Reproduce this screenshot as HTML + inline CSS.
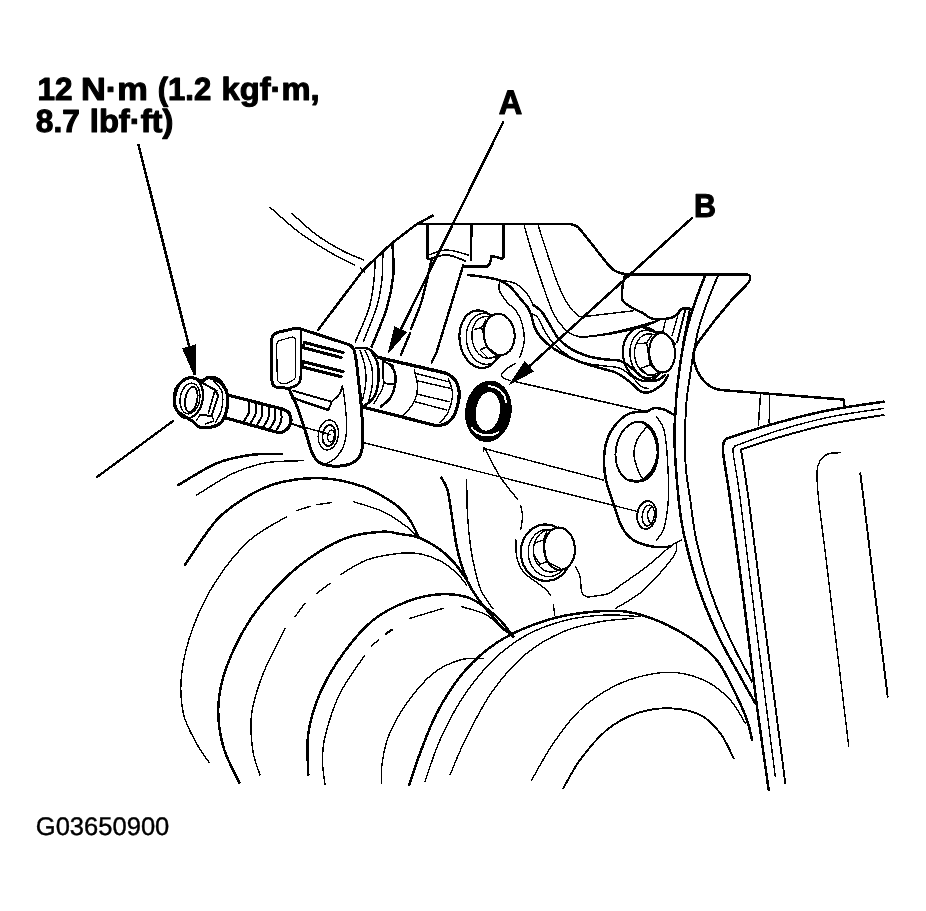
<!DOCTYPE html>
<html lang="en">
<head>
<meta charset="utf-8">
<title>G03650900</title>
<style>
html,body{margin:0;padding:0;background:#fff;}
body{width:926px;height:911px;overflow:hidden;position:relative;font-family:"Liberation Sans",sans-serif;}
svg{position:absolute;left:0;top:0;display:block;filter:grayscale(1);}
svg path,svg ellipse{stroke-linecap:round;stroke-linejoin:round;}
svg text{font-family:"Liberation Sans",sans-serif;fill:#000;}
</style>
</head>
<body>
<svg width="926" height="911" viewBox="0 0 926 911" shape-rendering="crispEdges">
<rect x="0" y="0" width="926" height="911" fill="#fff"/>
<path d="M138.5 145.0L190.0 350.0" fill="none" stroke="#000" stroke-width="2.6"/>
<path d="M182.1 348.3L195.8 344.3L195.8 375.3L193.8 375.3Z" fill="#000"/>
<path d="M503.0 122.5L400.0 331.0" fill="none" stroke="#000" stroke-width="2.5"/>
<path d="M394.4 326.0L407.0 332.2L387.3 354.6Z" fill="#000"/>
<path d="M691.7 218.3L529.0 366.6" fill="none" stroke="#000" stroke-width="2.5"/>
<path d="M524.8 361.0L534.0 371.4L508.1 385.6Z" fill="#000"/>
<path d="M318.0 330.0L363.3 270.0L391.7 243.3L416.7 224.2L432.5 215.8" fill="none" stroke="#000" stroke-width="2.5"/>
<path d="M418.0 224.2L570.8 224.2" fill="none" stroke="#000" stroke-width="2.5"/>
<path d="M570.8 224.2C571.8 224.5 575.0 225.2 576.7 226.2C578.4 227.2 579.1 228.4 580.8 230.4C582.5 232.4 586.0 236.7 587.0 238.0" fill="none" stroke="#000" stroke-width="2.5"/>
<path d="M587.0 238.0L605.8 261.7" fill="none" stroke="#000" stroke-width="2.5"/>
<path d="M605.8 261.7C606.5 262.5 608.5 265.2 610.0 266.7C611.5 268.2 613.0 269.7 615.0 270.8C617.0 271.9 619.9 272.7 621.7 273.3C623.5 273.9 625.3 274.1 626.0 274.3" fill="none" stroke="#000" stroke-width="2.5"/>
<path d="M626.0 274.3L746.5 274.3" fill="none" stroke="#000" stroke-width="2.5"/>
<path d="M746.5 274.3C747.0 274.5 749.0 274.8 749.6 275.6C750.2 276.4 750.4 277.8 750.2 279.0C750.0 280.2 748.6 282.2 748.3 282.9" fill="none" stroke="#000" stroke-width="2.5"/>
<path d="M748.3 282.9L731.7 300.0L715.0 320.0L696.7 344.2" fill="none" stroke="#000" stroke-width="2.5"/>
<path d="M696.7 344.2C696.1 346.0 693.6 351.5 693.3 355.0C693.0 358.5 693.9 361.5 695.0 365.0C696.1 368.5 697.8 372.5 700.0 375.8C702.2 379.1 705.5 382.8 708.3 385.0C711.1 387.2 713.6 388.3 716.7 389.2C719.8 390.1 725.3 390.3 727.0 390.5" fill="none" stroke="#000" stroke-width="2.5"/>
<path d="M727.0 390.5L843.5 399.5L844.5 406.5" fill="none" stroke="#000" stroke-width="2.5"/>
<path d="M760.5 394.0L758.4 425.4" fill="none" stroke="#000" stroke-width="1.5"/>
<path d="M769.6 394.7L769.2 423.2" fill="none" stroke="#000" stroke-width="1.5"/>
<path d="M270.0 207.3C275.0 211.6 289.5 225.2 300.0 233.0C310.5 240.8 323.8 248.7 333.0 254.0C342.2 259.3 351.3 263.2 355.0 265.0" fill="none" stroke="#000" stroke-width="1.4"/>
<path d="M291.7 213.3C295.9 216.9 308.1 228.7 316.7 235.0C325.2 241.3 335.1 246.8 343.0 251.0C350.9 255.2 360.5 258.5 364.0 260.0" fill="none" stroke="#000" stroke-width="1.4"/>
<path d="M360.5 268.0L364.5 272.0" fill="none" stroke="#000" stroke-width="1.4"/>
<path d="M392.5 244.2C392.6 249.3 394.3 264.3 393.3 275.0C392.3 285.7 390.3 296.4 386.7 308.3C383.1 320.2 374.2 340.3 371.7 346.7" fill="none" stroke="#000" stroke-width="2.5"/>
<path d="M382.8 252.7C382.7 257.1 383.0 270.4 382.0 279.3C381.0 288.2 380.1 295.7 377.0 306.0C373.9 316.3 365.9 335.2 363.7 341.0" fill="none" stroke="#000" stroke-width="1.5"/>
<path d="M375.3 258.5C375.0 262.5 374.8 274.2 373.7 282.7C372.6 291.2 371.8 299.4 368.7 309.3C365.6 319.2 357.5 336.4 355.3 341.8" fill="none" stroke="#000" stroke-width="1.5"/>
<path d="M427.5 225.0L427.5 258.0" fill="none" stroke="#000" stroke-width="2.5"/>
<path d="M471.5 225.0L470.8 260.0" fill="none" stroke="#000" stroke-width="2.5"/>
<path d="M428.3 255.0C431.4 254.2 440.0 250.0 446.7 250.0C453.4 250.0 464.7 254.2 468.3 255.0" fill="none" stroke="#000" stroke-width="1.4"/>
<path d="M428.3 259.2C431.4 258.5 440.6 254.7 446.7 255.0C452.8 255.3 461.9 259.8 465.0 260.8" fill="none" stroke="#000" stroke-width="1.9"/>
<path d="M465.0 265.8L484.0 265.8" fill="none" stroke="#000" stroke-width="1.9"/>
<path d="M431.5 260.0C429.9 266.7 425.4 288.5 422.0 300.0C418.6 311.5 412.7 324.3 410.8 329.2" fill="none" stroke="#000" stroke-width="2.4"/>
<path d="M410.0 333.3L400.8 355.0" fill="none" stroke="#000" stroke-width="2.4"/>
<path d="M463.3 265.0L436.7 351.8L431.7 362.5" fill="none" stroke="#000" stroke-width="2.4"/>
<path d="M289.2 388.3L278.0 387.5Q272.0 387.0 272.0 381.0L271.7 340.8Q271.7 333.8 278.5 332.2L292.6 328.9Q297.5 327.8 302.3 329.4L350.0 345.0" fill="none" stroke="#000" stroke-width="3.0"/>
<path d="M350.0 345.0C350.6 345.7 352.6 347.2 353.5 349.0C354.4 350.8 354.7 351.1 355.5 356.0C356.3 360.9 357.3 369.0 358.3 378.3C359.3 387.6 361.0 400.6 361.7 411.7C362.4 422.8 363.1 437.2 362.5 445.0C361.9 452.8 360.9 455.0 358.3 458.3C355.7 461.6 351.4 463.8 346.7 465.0C342.0 466.2 334.7 466.4 330.0 465.8C325.3 465.2 321.4 464.1 318.3 461.7C315.2 459.3 313.9 457.0 311.7 451.7C309.5 446.4 307.6 438.1 305.0 430.0C302.4 421.9 298.2 409.4 295.8 403.3C293.4 397.2 291.9 395.8 290.8 393.3C289.7 390.8 289.5 389.1 289.2 388.3" fill="none" stroke="#000" stroke-width="3.0"/>
<path d="M300.8 330.0L300.8 376.0Q300.8 384.0 295.0 386.1L289.2 388.3" fill="none" stroke="#000" stroke-width="2.5"/>
<path d="M276.7 345.3Q276.7 341.3 280.6 340.2L291.4 337.3Q295.3 336.2 295.3 340.2L295.8 374.7Q295.8 378.7 292.3 380.6L288.5 382.6Q285.0 384.5 281.2 383.3L281.0 383.2Q277.2 382.0 277.2 378.0Z" fill="none" stroke="#000" stroke-width="1.2"/>
<path d="M304.0 342.4L343.2 352.6" fill="none" stroke="#000" stroke-width="3.1"/>
<path d="M303.5 347.7L341.2 357.6" fill="none" stroke="#000" stroke-width="3.1"/>
<path d="M303.5 361.8L343.2 371.7" fill="none" stroke="#000" stroke-width="3.1"/>
<path d="M303.0 367.2L341.2 376.6" fill="none" stroke="#000" stroke-width="3.1"/>
<path d="M303.8 342.4L303.4 347.7" fill="none" stroke="#000" stroke-width="2.4"/>
<path d="M303.3 361.8L302.9 367.2" fill="none" stroke="#000" stroke-width="2.4"/>
<path d="M293.3 390.8L331.7 401.7L328.3 410.0" fill="none" stroke="#000" stroke-width="1.9"/>
<path d="M292.5 397.8L328.3 410.0" fill="none" stroke="#000" stroke-width="2.5"/>
<path d="M342.5 385.8C342.0 387.2 341.3 391.4 339.5 394.0C337.7 396.6 333.0 400.4 331.7 401.7" fill="none" stroke="#000" stroke-width="1.9"/>
<path d="M342.5 385.8C342.9 388.7 344.3 396.2 345.0 403.3C345.7 410.4 347.0 421.1 346.7 428.3C346.4 435.5 345.2 441.7 343.3 446.7C341.4 451.7 337.8 455.5 335.0 458.3C332.2 461.1 328.1 462.5 326.7 463.3" fill="none" stroke="#000" stroke-width="1.4"/>
<ellipse cx="328.3" cy="435" rx="10" ry="15" transform="rotate(8 328.3 435)" fill="none" stroke="#000" stroke-width="1.4"/>
<ellipse cx="329" cy="435.5" rx="6.5" ry="10.5" transform="rotate(8 329 435.5)" fill="none" stroke="#000" stroke-width="1.9"/>
<ellipse cx="331" cy="436" rx="3.2" ry="6" transform="rotate(8 331 436)" fill="none" stroke="#000" stroke-width="1.4"/>
<path d="M291.0 423.5L330.0 434.5" fill="none" stroke="#000" stroke-width="1.4"/>
<path d="M378.7 357.5L446.7 373.3" fill="none" stroke="#000" stroke-width="3.4"/>
<path d="M446.7 373.3C448.1 374.4 452.9 376.7 455.0 380.0C457.1 383.3 459.2 387.8 459.2 393.3C459.2 398.9 457.1 408.3 455.0 413.3C452.9 418.3 449.8 421.2 446.7 423.3C443.6 425.4 438.4 425.4 436.7 425.8" fill="none" stroke="#000" stroke-width="3.2"/>
<path d="M361.7 406.7L436.7 425.8" fill="none" stroke="#000" stroke-width="3.2"/>
<path d="M355.8 348.3C357.2 348.2 361.6 347.6 364.0 347.8C366.4 348.0 367.6 348.1 370.0 349.7C372.4 351.3 377.2 356.2 378.7 357.5" fill="none" stroke="#000" stroke-width="2.5"/>
<path d="M370.8 350.0C371.9 352.2 376.2 358.6 377.5 363.3C378.8 368.0 379.2 372.7 378.7 378.3C378.1 383.9 376.8 392.0 374.2 396.7C371.6 401.4 365.1 405.0 363.3 406.7" fill="none" stroke="#000" stroke-width="2.5"/>
<path d="M360.0 350.0C360.8 352.8 364.0 361.1 365.0 366.7C366.0 372.2 366.2 377.8 365.8 383.3C365.4 388.9 363.1 397.2 362.5 400.0" fill="none" stroke="#000" stroke-width="1.4"/>
<path d="M365.0 350.0C366.1 352.8 370.4 361.1 371.7 366.7C372.9 372.2 373.1 377.5 372.5 383.3C371.9 389.1 369.8 397.8 368.3 401.7C366.8 405.6 364.1 405.9 363.3 406.7" fill="none" stroke="#000" stroke-width="1.4"/>
<path d="M382.5 360.8L383.7 383.3L394.2 384.2" fill="none" stroke="#000" stroke-width="1.9"/>
<path d="M382.5 360.8L393.3 365.8" fill="none" stroke="#000" stroke-width="1.9"/>
<path d="M383.7 383.3C383.4 384.4 383.3 386.7 381.7 390.0C380.1 393.3 375.4 401.1 374.2 403.3" fill="none" stroke="#000" stroke-width="1.4"/>
<path d="M390.0 364.2C390.8 365.7 394.2 369.6 395.0 373.3C395.8 377.1 395.5 382.5 394.7 386.7C393.9 390.9 392.3 395.0 390.0 398.3C387.7 401.6 382.3 405.3 380.8 406.7" fill="none" stroke="#000" stroke-width="2.5"/>
<path d="M414.2 369.2C414.8 372.1 417.6 381.0 417.5 386.7C417.4 392.4 415.7 398.6 413.3 403.3C410.9 408.0 405.0 413.1 403.3 415.0" fill="none" stroke="#000" stroke-width="1.4"/>
<path d="M415.0 373.3L448.3 381.7" fill="none" stroke="#000" stroke-width="1.4"/>
<path d="M417.5 380.8L450.0 388.3" fill="none" stroke="#000" stroke-width="1.4"/>
<path d="M417.5 394.2L449.2 401.7" fill="none" stroke="#000" stroke-width="1.4"/>
<path d="M415.0 401.7L446.7 410.0" fill="none" stroke="#000" stroke-width="1.4"/>
<path d="M448.3 378.3C449.0 380.8 452.5 387.7 452.5 393.3C452.5 398.9 450.4 406.8 448.3 411.7C446.2 416.6 441.4 420.7 440.0 422.5" fill="none" stroke="#000" stroke-width="1.4"/>
<ellipse cx="488.4" cy="411.3" rx="23.2" ry="30.9" transform="rotate(8 488.4 411.3)" fill="#000"/>
<ellipse cx="487.9" cy="411.3" rx="12" ry="19.4" transform="rotate(8 487.9 411.3)" fill="#fff"/>
<path d="M488.5 386C495 386.5 501 390 504.2 395.5C505.5 398 505.8 400 505.8 402" fill="none" stroke="#fff" stroke-width="2" stroke-linecap="round"/>
<path d="M471.7 428C474 431.5 478.3 434 484 435.2C489 436 494 435 498.3 432.5" fill="none" stroke="#fff" stroke-width="2" stroke-linecap="round"/>
<path d="M174.2 400.0C174.1 396.5 174.8 392.1 176.0 389.0C177.2 385.9 179.2 383.6 181.7 381.7C184.2 379.8 187.5 377.6 190.8 377.5C194.1 377.4 198.8 380.8 201.7 380.8C204.6 380.8 205.8 377.9 208.3 377.5C210.8 377.1 214.2 377.1 216.7 378.3C219.2 379.6 221.5 382.2 223.3 385.0C225.1 387.8 226.9 390.8 227.5 395.0C228.1 399.2 227.7 405.6 226.7 410.0C225.7 414.4 223.9 418.9 221.7 421.7C219.5 424.5 216.1 425.7 213.3 426.7C210.5 427.7 207.5 427.5 205.0 427.5C202.5 427.5 200.2 427.7 198.3 426.7C196.4 425.7 195.5 423.4 193.3 421.7C191.1 420.0 187.8 418.6 185.0 416.7C182.2 414.8 178.5 412.8 176.7 410.0C174.9 407.2 174.3 403.5 174.2 400.0Z" fill="none" stroke="#000" stroke-width="3.2"/>
<ellipse cx="189" cy="398" rx="13.8" ry="20.5" transform="rotate(10 189 398)" fill="none" stroke="#000" stroke-width="2.2"/>
<ellipse cx="190" cy="398.5" rx="9.8" ry="15.5" transform="rotate(10 190 398.5)" fill="none" stroke="#000" stroke-width="1.3"/>
<ellipse cx="191.3" cy="399.3" rx="6" ry="12.8" transform="rotate(10 191.3 399.3)" fill="none" stroke="#000" stroke-width="1.8"/>
<path d="M201.7 382.5L215.0 390.0L218.3 395.8L211.7 415.8L200.0 415.0" fill="none" stroke="#000" stroke-width="2.0"/>
<path d="M205.0 384.2L217.5 390.8" fill="none" stroke="#000" stroke-width="1.3"/>
<path d="M215.0 390.0L208.3 413.5" fill="none" stroke="#000" stroke-width="1.6"/>
<path d="M211.7 415.8L214.0 421.0L205.0 424.0" fill="none" stroke="#000" stroke-width="1.3"/>
<path d="M200.0 415.0L196.7 420.0" fill="none" stroke="#000" stroke-width="1.3"/>
<path d="M208.3 377.5C210.2 378.4 216.8 380.1 220.0 383.0C223.2 385.9 226.4 390.5 227.5 395.0C228.6 399.5 227.7 405.6 226.7 410.0C225.7 414.4 223.6 419.0 221.7 421.7C219.8 424.4 216.1 425.3 215.0 426.0" fill="none" stroke="#000" stroke-width="2.5"/>
<path d="M213.0 380.0C214.5 382.0 220.6 387.0 222.0 392.0C223.4 397.0 222.6 405.0 221.5 410.0C220.4 415.0 216.5 420.0 215.5 422.0" fill="none" stroke="#000" stroke-width="1.4"/>
<path d="M227.5 395.0L283.3 409.2" fill="none" stroke="#000" stroke-width="3.2"/>
<path d="M224.2 417.5L275.0 431.7" fill="none" stroke="#000" stroke-width="3.2"/>
<path d="M283.3 409.2C284.2 409.8 287.7 411.2 289.0 413.0C290.3 414.8 291.2 417.5 291.0 420.0C290.8 422.5 289.7 425.9 288.0 428.0C286.3 430.1 283.2 431.9 281.0 432.5C278.8 433.1 276.0 431.8 275.0 431.7" fill="none" stroke="#000" stroke-width="3.2"/>
<path d="M249.0 401.0C249.0 402.9 250.0 408.7 249.0 412.2C248.0 415.8 244.0 420.8 243.0 422.5" fill="none" stroke="#000" stroke-width="2.0"/>
<path d="M255.5 402.5C255.5 404.4 256.5 410.3 255.5 414.0C254.5 417.7 250.5 422.8 249.5 424.5" fill="none" stroke="#000" stroke-width="2.0"/>
<path d="M262.0 404.0C262.0 405.9 263.0 411.9 262.0 415.6C261.0 419.4 257.0 424.5 256.0 426.3" fill="none" stroke="#000" stroke-width="2.0"/>
<path d="M268.5 405.7C268.5 407.6 269.5 413.6 268.5 417.4C267.5 421.1 263.5 426.2 262.5 428.0" fill="none" stroke="#000" stroke-width="2.0"/>
<path d="M275.0 407.3C275.0 409.3 276.0 415.4 275.0 419.1C274.0 422.9 270.0 428.2 269.0 430.0" fill="none" stroke="#000" stroke-width="2.0"/>
<path d="M281.0 409.0C281.0 411.0 282.2 417.0 281.2 420.8C280.3 424.5 276.5 429.7 275.5 431.5" fill="none" stroke="#000" stroke-width="2.0"/>
<path d="M173.3 420.8L97.0 477.0" fill="none" stroke="#000" stroke-width="2.3"/>
<path d="M291.5 424.0L303.0 428.0" fill="none" stroke="#000" stroke-width="1.4"/>
<path d="M705.4 275.0C704.4 277.6 701.2 285.4 699.2 290.8C697.2 296.2 695.1 301.9 693.3 307.5C691.5 313.1 690.0 317.4 688.3 324.2C686.5 330.9 684.3 340.1 682.8 348.0C681.3 355.9 680.2 364.3 679.2 371.7C678.2 379.1 677.3 386.8 676.7 392.5C676.1 398.2 676.2 397.8 675.8 406.0C675.4 414.2 674.0 426.1 674.5 441.8C675.0 457.5 677.2 484.8 678.7 500.0C680.2 515.2 680.7 519.4 683.7 533.3C686.8 547.2 691.5 566.6 697.0 583.3C702.5 600.0 709.8 617.7 717.0 633.3C724.2 648.9 733.9 665.0 740.3 676.7C746.7 688.4 752.8 698.9 755.3 703.3" fill="none" stroke="#000" stroke-width="2.5"/>
<path d="M718.3 275.0C716.9 278.3 712.6 288.2 710.0 295.0C707.4 301.8 704.5 310.0 702.5 315.8C700.5 321.6 699.5 325.1 698.3 330.0C697.0 334.9 696.0 340.1 695.0 345.0C694.0 349.9 693.3 354.1 692.5 359.2C691.7 364.3 690.8 370.2 690.0 375.8C689.2 381.4 688.1 387.5 687.5 392.5C686.9 397.5 686.7 397.8 686.2 406.0C685.7 414.2 684.7 431.1 684.7 441.8C684.7 452.5 685.1 460.3 686.0 470.0C686.9 479.7 688.5 487.8 690.3 500.0C692.1 512.2 693.1 526.6 697.0 543.3C700.9 560.0 707.6 582.8 713.7 600.0C719.8 617.2 727.3 633.1 733.7 646.7C740.1 660.3 749.0 675.9 752.0 681.7" fill="none" stroke="#000" stroke-width="1.9"/>
<path d="M883.7 401.7C874.8 403.1 847.3 406.6 830.0 410.0C812.7 413.4 796.3 417.6 780.0 422.0C763.7 426.4 740.0 434.2 732.0 436.7" fill="none" stroke="#000" stroke-width="2.5"/>
<path d="M732.0 436.7C730.8 437.2 726.5 438.3 725.0 440.0C723.5 441.7 723.2 444.2 723.0 447.0C722.8 449.8 723.4 455.1 723.5 456.7" fill="none" stroke="#000" stroke-width="2.5"/>
<path d="M723.5 456.7C724.6 463.9 726.9 476.1 730.3 500.0C733.7 523.9 739.2 565.5 743.7 600.0C748.2 634.5 752.8 675.0 757.0 706.7C761.2 738.4 766.8 776.1 768.7 790.0" fill="none" stroke="#000" stroke-width="2.5"/>
<path d="M883.7 408.3C874.8 409.8 847.3 413.4 830.0 417.0C812.7 420.6 795.8 425.2 780.0 430.0C764.2 434.8 742.5 443.3 735.0 446.0" fill="none" stroke="#000" stroke-width="1.4"/>
<path d="M735.0 446.0C734.7 446.5 733.2 447.3 733.0 449.0C732.8 450.7 733.4 454.8 733.5 456.0" fill="none" stroke="#000" stroke-width="1.4"/>
<path d="M733.5 456.0C734.6 463.3 736.4 470.4 740.3 500.0C744.2 529.5 751.2 587.2 757.0 633.3C762.8 679.4 772.2 752.8 775.3 776.7" fill="none" stroke="#000" stroke-width="1.4"/>
<path d="M883.7 415.0C874.8 416.5 847.3 420.3 830.0 424.0C812.7 427.7 794.8 432.8 780.0 437.0C765.2 441.2 747.5 447.4 741.0 449.5" fill="none" stroke="#000" stroke-width="1.9"/>
<path d="M741.0 449.5C742.3 457.9 744.9 472.1 748.7 500.0C752.5 527.9 757.6 569.5 763.7 616.7C769.8 663.9 781.7 755.5 785.3 783.3" fill="none" stroke="#000" stroke-width="1.9"/>
<path d="M840.3 452.7C838.2 452.9 831.4 452.6 828.0 454.0C824.6 455.4 821.8 458.0 820.0 461.0C818.2 464.0 817.2 465.5 817.0 472.0C816.8 478.5 817.0 484.2 818.7 500.0C820.4 515.8 822.0 525.7 827.0 566.7C832.0 607.7 845.1 716.1 848.7 746.0" fill="none" stroke="#000" stroke-width="1.4"/>
<path d="M860.3 473.3L863.7 500.0L873.7 583.3L887.7 696.7" fill="none" stroke="#000" stroke-width="1.9"/>
<path d="M673.3 414.5C671.6 413.6 666.6 410.2 663.3 409.2C660.0 408.2 656.1 407.9 653.3 408.3C650.5 408.7 650.6 410.7 646.7 411.5C642.8 412.3 635.0 411.3 630.0 413.3C625.0 415.3 620.5 418.9 616.7 423.3C612.9 427.8 609.1 433.9 607.0 440.0C604.9 446.1 604.2 453.3 604.0 460.0C603.8 466.7 604.5 472.8 606.0 480.0C607.5 487.2 610.7 495.5 613.3 503.3C615.9 511.1 618.4 520.6 621.7 526.7C625.0 532.8 628.0 536.7 633.3 540.0C638.6 543.3 647.2 545.6 653.3 546.7C659.4 547.8 667.2 546.7 670.0 546.7" fill="none" stroke="#000" stroke-width="2.5"/>
<path d="M656.7 416.7C657.9 418.9 662.2 422.8 664.0 430.0C665.8 437.2 666.8 448.3 667.5 460.0C668.2 471.7 668.9 488.7 668.3 500.0C667.7 511.3 665.9 521.3 664.0 528.0C662.1 534.7 657.9 538.0 656.7 540.0" fill="none" stroke="#000" stroke-width="1.4"/>
<ellipse cx="636.7" cy="451.7" rx="21" ry="30" transform="rotate(8 636.7 451.7)" fill="none" stroke="#000" stroke-width="1.9"/>
<path d="M643.0 422.5C644.5 423.9 649.6 426.9 652.0 431.0C654.4 435.1 656.8 441.3 657.5 447.0C658.2 452.7 657.6 459.8 656.0 465.0C654.4 470.2 651.2 475.2 648.0 478.0C644.8 480.8 640.0 481.2 637.0 481.5C634.0 481.8 631.2 480.2 630.0 480.0" fill="none" stroke="#000" stroke-width="2.5"/>
<path d="M646.7 426.7C645.1 428.9 639.1 435.3 637.0 440.0C634.9 444.7 633.8 450.0 634.0 455.0C634.2 460.0 636.5 465.8 638.0 470.0C639.5 474.2 642.4 478.3 643.3 480.0" fill="none" stroke="#000" stroke-width="1.4"/>
<ellipse cx="646.7" cy="515" rx="9.5" ry="14" transform="rotate(8 646.7 515)" fill="none" stroke="#000" stroke-width="1.9"/>
<ellipse cx="648.3" cy="515.5" rx="6" ry="10.5" transform="rotate(8 648.3 515.5)" fill="none" stroke="#000" stroke-width="1.4"/>
<path d="M652.0 506.5C651.3 507.4 648.6 509.8 648.0 512.0C647.4 514.2 647.8 517.8 648.5 520.0C649.2 522.2 651.4 524.2 652.0 525.0" fill="none" stroke="#000" stroke-width="1.4"/>
<path d="M516.7 382.0L646.7 411.7" fill="none" stroke="#000" stroke-width="1.6"/>
<path d="M483.3 448.3L603.3 480.0" fill="none" stroke="#000" stroke-width="1.4"/>
<path d="M363.3 442.5L638.3 511.7" fill="none" stroke="#000" stroke-width="1.4"/>
<path d="M178.3 485.0C184.7 481.4 204.8 468.3 216.7 463.3C228.6 458.3 239.2 456.6 250.0 455.0C260.8 453.4 276.4 454.0 281.7 453.8" fill="none" stroke="#000" stroke-width="2.5"/>
<path d="M196.7 495.0C202.8 491.4 221.6 478.7 233.3 473.3C245.0 467.9 255.0 464.8 266.7 462.7C278.4 460.6 297.2 461.0 303.3 460.7" fill="none" stroke="#000" stroke-width="1.4"/>
<path d="M185.0 565.0C190.3 557.5 205.9 531.7 216.7 520.0C227.5 508.3 238.9 501.4 250.0 495.0C261.1 488.6 271.1 484.5 283.3 481.7C295.5 478.9 310.0 477.5 323.3 478.3C336.6 479.1 352.2 482.9 363.3 486.7C374.4 490.4 383.9 497.2 390.0 500.8C396.1 504.4 396.7 505.1 400.0 508.3C403.3 511.5 406.9 515.3 410.0 520.0C413.1 524.7 416.9 533.9 418.3 536.7" fill="none" stroke="#000" stroke-width="2.5"/>
<path d="M286.7 516.7C280.6 520.6 261.7 529.5 250.0 540.0C238.3 550.5 226.1 565.5 216.7 580.0C207.2 594.5 199.1 611.2 193.3 626.7C187.5 642.2 183.4 658.9 181.7 673.3C180.0 687.7 180.8 701.6 183.3 713.3C185.8 725.0 192.4 735.5 196.7 743.7C201.0 751.9 207.2 759.5 209.3 762.7" fill="none" stroke="#000" stroke-width="1.4"/>
<path d="M296.7 510.5C299.9 509.6 309.3 506.4 316.0 505.0C322.7 503.6 333.2 502.5 336.7 502.0" fill="none" stroke="#000" stroke-width="1.4" stroke-dasharray="14 7"/>
<path d="M353.3 501.7C358.3 503.4 374.4 507.5 383.3 511.7C392.2 515.9 401.1 522.5 406.7 526.7C412.3 530.9 415.3 535.3 417.0 537.0" fill="none" stroke="#000" stroke-width="1.4"/>
<path d="M513.3 636.7C511.1 634.8 504.4 629.5 500.0 625.0C495.6 620.5 491.1 615.5 486.7 610.0C482.2 604.5 476.6 596.8 473.3 591.8C470.0 586.8 470.0 585.0 466.7 580.0C463.4 575.0 458.0 567.0 453.3 561.7C448.6 556.4 444.1 552.3 438.3 548.3C432.5 544.3 424.7 539.9 418.3 537.5C411.9 535.1 405.8 535.0 400.0 534.0C394.2 533.0 391.6 531.2 383.3 531.7C375.0 532.2 361.1 533.1 350.0 536.7C338.9 540.3 327.8 546.1 316.7 553.3C305.6 560.5 294.4 568.9 283.3 580.0C272.2 591.1 259.4 605.5 250.0 620.0C240.6 634.5 232.0 652.2 226.7 666.7C221.4 681.2 218.9 693.4 218.3 706.7C217.7 720.0 219.8 734.0 223.3 746.7C226.8 759.4 236.6 776.7 239.3 782.7" fill="none" stroke="#000" stroke-width="2.5"/>
<path d="M466.7 585.0C465.0 583.0 460.9 577.2 456.7 573.3C452.5 569.4 447.5 564.9 441.7 561.7C435.9 558.5 428.6 555.6 421.7 554.2C414.8 552.8 409.2 552.3 400.0 553.3C390.8 554.3 376.7 556.4 366.7 560.0C356.7 563.6 344.4 572.5 340.0 575.0" fill="none" stroke="#000" stroke-width="1.4"/>
<path d="M330.0 583.3L316.7 593.3" fill="none" stroke="#000" stroke-width="1.4"/>
<path d="M305.0 603.3L295.0 616.7" fill="none" stroke="#000" stroke-width="1.4"/>
<path d="M285.0 628.3C281.4 635.8 268.9 659.1 263.3 673.3C257.8 687.5 253.5 700.5 251.7 713.3C249.9 726.1 251.3 739.7 252.7 750.0C254.1 760.3 258.8 770.8 260.0 775.0" fill="none" stroke="#000" stroke-width="1.4"/>
<path d="M513.3 636.7C510.5 633.4 503.9 623.1 496.7 616.7C489.5 610.3 479.4 602.0 470.0 598.3C460.6 594.6 450.6 593.7 440.0 594.3C429.4 594.9 417.8 597.4 406.7 601.7C395.6 606.0 383.9 611.4 373.3 620.0C362.7 628.6 352.2 641.1 343.3 653.3C334.4 665.5 325.8 680.0 320.0 693.3C314.2 706.6 310.2 719.7 308.3 733.3C306.4 746.9 308.3 768.0 308.3 775.0" fill="none" stroke="#000" stroke-width="2.5"/>
<path d="M443.3 608.3L410.0 618.3" fill="none" stroke="#000" stroke-width="1.4"/>
<path d="M391.7 630.0L385.5 634.0" fill="none" stroke="#000" stroke-width="2.2"/>
<path d="M378.3 640.0L371.7 646.0" fill="none" stroke="#000" stroke-width="1.4"/>
<path d="M365.0 655.0C360.8 661.4 346.7 679.7 340.0 693.3C333.3 706.9 327.9 725.0 325.0 736.7C322.1 748.4 322.7 755.4 322.7 763.3C322.7 771.2 324.6 780.5 325.0 784.0" fill="none" stroke="#000" stroke-width="1.4"/>
<path d="M461.7 606.7C465.9 608.1 479.8 611.1 486.7 615.0C493.6 618.9 500.5 627.5 503.3 630.0" fill="none" stroke="#000" stroke-width="1.4"/>
<path d="M483.3 658.3C479.4 658.6 468.3 657.5 460.0 660.0C451.7 662.5 442.2 666.1 433.3 673.3C424.4 680.5 414.2 692.7 406.7 703.3C399.2 713.9 392.5 726.1 388.3 736.7C384.1 747.3 382.8 758.9 381.7 766.7C380.6 774.5 381.7 780.5 381.7 783.3" fill="none" stroke="#000" stroke-width="1.4"/>
<path d="M409.3 785.0C411.1 779.7 415.4 765.2 420.0 753.3C424.6 741.3 430.0 726.1 436.7 713.3C443.4 700.5 451.7 687.2 460.0 676.7C468.3 666.2 477.8 657.2 486.7 650.0C495.6 642.8 502.2 638.6 513.3 633.3C524.4 628.0 540.0 621.9 553.3 618.3C566.6 614.7 581.1 612.8 593.3 611.7C605.5 610.6 615.6 610.0 626.7 611.7C637.8 613.4 648.9 617.0 660.0 621.7C671.1 626.4 683.8 633.6 693.3 640.0C702.8 646.4 710.0 651.7 716.7 660.0C723.4 668.3 728.7 680.0 733.7 690.0C738.8 700.0 744.0 711.7 747.0 720.0C750.0 728.3 751.2 736.7 752.0 740.0" fill="none" stroke="#000" stroke-width="2.5"/>
<path d="M425.0 781.7C427.5 774.8 433.6 754.2 440.0 740.0C446.4 725.8 454.4 710.0 463.3 696.7C472.2 683.4 482.7 670.3 493.3 660.0C503.9 649.7 514.5 641.7 526.7 635.0C538.9 628.3 553.4 623.3 566.7 620.0C580.0 616.7 594.5 615.5 606.7 615.0C618.9 614.5 634.5 616.4 640.0 616.7" fill="none" stroke="#000" stroke-width="1.4"/>
<path d="M450.0 775.0C452.8 768.6 459.5 750.9 466.7 736.7C473.9 722.5 483.3 703.9 493.3 690.0C503.3 676.1 515.0 663.0 526.7 653.3C538.4 643.6 551.1 637.0 563.3 631.7C575.5 626.4 588.3 623.9 600.0 621.7C611.7 619.5 627.8 618.9 633.3 618.3" fill="none" stroke="#000" stroke-width="1.4"/>
<path d="M531.7 780.0C535.3 773.9 545.2 755.0 553.3 743.3C561.3 731.6 570.0 719.4 580.0 710.0C590.0 700.6 602.2 692.5 613.3 686.7C624.4 680.9 636.1 677.3 646.7 675.0C657.3 672.7 667.0 671.6 677.0 672.7C687.0 673.8 698.1 677.2 707.0 681.7C715.9 686.2 723.9 693.1 730.3 700.0C736.7 706.9 742.8 719.4 745.3 723.3" fill="none" stroke="#000" stroke-width="1.4"/>
<path d="M563.3 788.3C566.1 783.6 572.8 769.7 580.0 760.0C587.2 750.3 597.2 737.8 606.7 730.0C616.2 722.2 626.2 716.9 636.7 713.3C647.2 709.7 659.4 708.0 670.0 708.3C680.6 708.6 691.9 710.8 700.3 715.0C708.7 719.2 714.7 726.1 720.3 733.3C725.9 740.5 731.5 754.1 733.7 758.3" fill="none" stroke="#000" stroke-width="1.9"/>
<path d="M441.3 477.5C442.3 479.6 445.8 483.8 447.5 490.0C449.2 496.2 450.2 505.6 451.7 515.0C453.2 524.5 454.9 537.8 456.7 546.7C458.5 555.6 460.8 563.0 462.5 568.3C464.2 573.6 466.0 576.6 466.7 578.3" fill="none" stroke="#000" stroke-width="2.5"/>
<path d="M466.7 480.0C466.8 485.8 466.8 503.6 467.5 515.0C468.2 526.4 469.4 538.6 470.8 548.3C472.2 558.0 474.0 566.0 475.8 573.3C477.6 580.5 478.8 585.8 481.7 591.8C484.6 597.8 491.1 606.1 493.0 609.0" fill="none" stroke="#000" stroke-width="1.4"/>
<path d="M468.3 275.0C470.9 275.3 479.0 276.2 484.0 277.0C489.0 277.8 494.0 278.4 498.3 280.0C502.6 281.6 506.4 283.6 510.0 286.7C513.6 289.8 517.0 294.7 520.0 298.3C523.0 301.9 526.3 305.0 528.3 308.3C530.3 311.6 530.9 314.7 532.0 318.0C533.1 321.3 533.4 324.9 535.0 328.3C536.6 331.7 538.7 335.0 541.7 338.3C544.8 341.6 548.9 345.2 553.3 348.3C557.7 351.4 563.3 354.2 568.3 356.7C573.2 359.1 577.7 361.1 583.0 363.0C588.3 364.9 594.4 366.3 600.0 368.0C605.6 369.7 611.7 370.7 616.7 373.0C621.7 375.3 626.1 379.0 630.0 382.0C633.9 385.0 637.0 389.2 640.0 391.0C643.0 392.8 645.3 392.8 648.0 392.5C650.7 392.2 653.5 390.5 656.0 389.0C658.5 387.5 661.2 385.6 663.3 383.3C665.3 381.0 667.5 376.4 668.3 375.0" fill="none" stroke="#000" stroke-width="2.5"/>
<path d="M533.3 305.0C534.7 306.1 538.9 308.4 541.7 311.7C544.5 315.0 547.2 320.6 550.0 325.0C552.8 329.4 555.0 334.4 558.3 338.3C561.6 342.2 565.3 345.4 570.0 348.3C574.7 351.2 581.2 354.0 586.7 355.8C592.2 357.6 597.8 358.4 603.3 359.2C608.8 360.0 615.5 359.6 620.0 360.8C624.5 362.1 626.4 364.1 630.0 366.7C633.6 369.3 638.4 374.4 641.7 376.7C645.0 379.0 647.3 379.9 650.0 380.5C652.7 381.1 655.5 380.9 658.0 380.0C660.5 379.1 663.8 375.8 665.0 375.0" fill="none" stroke="#000" stroke-width="2.5"/>
<path d="M531.7 313.3C532.8 314.1 536.1 315.2 538.3 318.3C540.5 321.4 542.2 327.2 545.0 331.7C547.8 336.1 550.8 340.8 555.0 345.0C559.2 349.2 564.7 353.6 570.0 356.7C575.3 359.8 581.2 361.8 586.7 363.3C592.2 364.8 597.8 365.0 603.3 365.8C608.8 366.6 615.3 366.5 620.0 368.3C624.7 370.1 628.1 373.6 631.7 376.7C635.3 379.8 638.9 384.8 641.7 386.7C644.5 388.6 647.2 388.0 648.3 388.3" fill="none" stroke="#000" stroke-width="1.4"/>
<path d="M498.3 280.0C501.1 280.6 510.3 281.1 515.0 283.3C519.7 285.5 523.7 289.7 526.7 293.3C529.8 296.9 532.2 303.1 533.3 305.0" fill="none" stroke="#000" stroke-width="1.4"/>
<path d="M524.2 225.8C525.7 231.0 530.1 246.5 533.3 256.7C536.5 266.8 540.0 277.3 543.3 286.7C546.6 296.1 550.0 306.5 553.3 313.3C556.6 320.1 559.7 323.8 563.3 327.5C566.9 331.2 570.5 334.0 575.0 335.5C579.5 337.0 584.5 336.7 590.0 336.3C595.5 335.9 601.6 334.6 608.3 333.3C615.0 332.0 622.4 330.2 630.0 328.3C637.6 326.4 648.8 323.1 653.8 321.7C658.8 320.3 659.0 320.3 660.0 320.0" fill="none" stroke="#000" stroke-width="1.4"/>
<path d="M538.3 225.8C540.0 231.0 545.0 246.8 548.3 256.7C551.6 266.6 555.0 276.9 558.3 285.0C561.6 293.1 565.0 299.9 568.3 305.0C571.6 310.1 575.8 313.9 578.3 315.8C580.8 317.7 582.5 316.4 583.3 316.5" fill="none" stroke="#000" stroke-width="1.4"/>
<path d="M583.3 316.7L633.3 310.8" fill="none" stroke="#000" stroke-width="1.4"/>
<path d="M625.0 275.0C624.6 276.9 622.9 282.5 622.5 286.7C622.1 290.9 621.0 296.5 622.5 300.0C624.0 303.5 628.2 305.3 631.7 307.5C635.2 309.7 640.2 311.6 643.3 313.3C646.3 315.0 647.5 316.9 650.0 317.9C652.5 318.9 654.8 319.2 658.3 319.2C661.8 319.2 667.6 318.7 670.8 317.9C674.0 317.1 675.8 315.6 677.5 314.2C679.2 312.8 679.4 310.5 680.8 309.5C682.2 308.5 683.8 308.4 685.8 308.3C687.8 308.2 691.4 309.1 692.5 309.2" fill="none" stroke="#000" stroke-width="2.5"/>
<path d="M689.6 310.8L682.5 345.9" fill="none" stroke="#000" stroke-width="2.0"/>
<path d="M685.0 310.8L677.1 342.5" fill="none" stroke="#000" stroke-width="2.0"/>
<path d="M677.5 316.7L672.1 335.8" fill="none" stroke="#000" stroke-width="1.4"/>
<path d="M665.4 320.8L662.9 331.7" fill="none" stroke="#000" stroke-width="1.4"/>
<path d="M644.2 328.3C645.6 328.8 649.6 330.9 652.5 331.5C655.4 332.1 658.9 331.1 661.7 332.0C664.5 332.9 667.0 334.7 669.2 336.7C671.4 338.7 674.0 342.9 675.0 344.2" fill="none" stroke="#000" stroke-width="1.9"/>
<path d="M580.0 337.5C585.5 336.8 602.8 335.1 613.3 333.3C623.8 331.5 635.9 328.6 643.3 326.5C650.7 324.4 655.1 321.8 657.5 320.8" fill="none" stroke="#000" stroke-width="1.9"/>
<path d="M500.0 280.0C499.9 281.7 498.1 286.4 499.2 290.0C500.3 293.6 503.8 298.1 506.7 301.7C509.6 305.3 514.1 307.8 516.7 311.7C519.3 315.6 521.2 320.0 522.5 325.0C523.8 330.0 524.6 336.4 524.2 341.7C523.8 347.0 520.7 354.4 520.0 357.0" fill="none" stroke="#000" stroke-width="1.4"/>
<path d="M515.4 363.3C514.1 364.1 509.7 366.6 507.5 368.3C505.3 370.0 502.9 371.8 502.1 373.3C501.3 374.8 501.1 376.2 502.5 377.5C503.9 378.8 509.4 380.2 510.8 380.8" fill="none" stroke="#000" stroke-width="1.5"/>
<path d="M503.7 224.0L503.7 256.7L501.7 258.7L491.7 255.8L490.0 263.3L486.7 266.7L463.3 266.7" fill="none" stroke="#000" stroke-width="2.5"/>
<ellipse cx="480.2" cy="339.2" rx="20.6" ry="28.9" transform="rotate(-8 480.2 339.2)" fill="none" stroke="#000" stroke-width="2.2"/>
<ellipse cx="485.3" cy="338.8" rx="19" ry="25.6" transform="rotate(-6 485.3 338.8)" fill="none" stroke="#000" stroke-width="1.4"/>
<ellipse cx="487" cy="337.5" rx="15" ry="21" transform="rotate(-8 487 337.5)" fill="none" stroke="#000" stroke-width="1.4"/>
<ellipse cx="499.2" cy="334.6" rx="15.4" ry="20.8" transform="rotate(-7 499.2 334.6)" fill="#fff" stroke="#000" stroke-width="2.1"/>
<path d="M475.0 329.2L481.7 327.5L485.8 320.0" fill="none" stroke="#000" stroke-width="1.4"/>
<path d="M481.7 327.5L486.7 346.7L480.0 350.0" fill="none" stroke="#000" stroke-width="1.4"/>
<path d="M486.7 346.7L496.7 354.2" fill="none" stroke="#000" stroke-width="1.4"/>
<path d="M480.0 350.0L488.3 358.3L496.7 356.7" fill="none" stroke="#000" stroke-width="1.4"/>
<ellipse cx="644" cy="354" rx="21" ry="27" transform="rotate(-8 644 354)" fill="none" stroke="#000" stroke-width="2.2"/>
<ellipse cx="648" cy="354" rx="18" ry="24" transform="rotate(-6 648 354)" fill="none" stroke="#000" stroke-width="1.4"/>
<ellipse cx="650" cy="354.4" rx="15.4" ry="20.6" transform="rotate(-6 650 354.4)" fill="none" stroke="#000" stroke-width="1.4"/>
<ellipse cx="662.1" cy="352.7" rx="12.9" ry="19.8" transform="rotate(-3 662.1 352.7)" fill="#fff" stroke="#000" stroke-width="2.1"/>
<path d="M637.5 343.8L646.7 342.9L651.7 335.4" fill="none" stroke="#000" stroke-width="1.4"/>
<path d="M646.7 342.9L650.0 365.0L640.8 368.3" fill="none" stroke="#000" stroke-width="1.4"/>
<path d="M650.0 365.0L658.3 372.5" fill="none" stroke="#000" stroke-width="1.4"/>
<path d="M640.8 368.3L647.5 375.5L655.0 376.0" fill="none" stroke="#000" stroke-width="1.4"/>
<ellipse cx="546" cy="552.7" rx="25.2" ry="28.2" transform="rotate(-5 546 552.7)" fill="none" stroke="#000" stroke-width="2.2"/>
<ellipse cx="548.2" cy="553" rx="20" ry="23.6" transform="rotate(-5 548.2 553)" fill="none" stroke="#000" stroke-width="1.4"/>
<ellipse cx="550.5" cy="551" rx="17" ry="21" transform="rotate(-5 550.5 551)" fill="none" stroke="#000" stroke-width="1.4"/>
<ellipse cx="559.5" cy="548.7" rx="15.4" ry="21.2" transform="rotate(-4 559.5 548.7)" fill="#fff" stroke="#000" stroke-width="2.1"/>
<path d="M534.2 543.3L543.3 540.0L546.7 531.7" fill="none" stroke="#000" stroke-width="1.4"/>
<path d="M543.3 540.0L546.7 561.7L540.0 564.2L535.0 556.7" fill="none" stroke="#000" stroke-width="1.4"/>
<path d="M546.7 561.7L560.0 568.3" fill="none" stroke="#000" stroke-width="1.4"/>
<path d="M515.8 539.2C515.9 542.1 515.5 551.3 516.7 556.7C518.0 562.1 520.0 567.4 523.3 571.7C526.6 576.0 532.8 579.5 536.7 582.5C540.6 585.5 544.4 587.9 546.7 590.0C549.0 592.1 549.7 594.4 550.3 595.3" fill="none" stroke="#000" stroke-width="1.4"/>
<path d="M520.8 505.8C521.1 507.6 522.5 512.8 522.5 516.7C522.5 520.6 521.1 527.1 520.8 529.2" fill="none" stroke="#000" stroke-width="1.4"/>
<path d="M483.3 451.5C483.3 451.1 483.1 449.2 483.5 449.0C483.9 448.8 482.8 445.4 485.5 450.0C488.2 454.6 494.7 468.5 500.0 476.7C505.3 484.9 514.6 495.4 517.5 499.2" fill="none" stroke="#000" stroke-width="1.4"/>
<path d="M553.3 604.2L554.7 615.0" fill="none" stroke="#000" stroke-width="1.4"/>
<path d="M575.8 566.7C576.5 568.4 579.0 572.5 580.0 576.7C581.0 580.9 580.6 588.4 581.7 591.7C582.8 595.0 584.2 596.0 586.7 596.7C589.2 597.4 593.0 596.4 596.7 595.8C600.5 595.2 604.8 595.4 609.2 593.3C613.6 591.2 617.0 587.7 623.3 583.3C629.5 578.9 638.9 572.8 646.7 566.7C654.5 560.6 664.2 551.2 670.0 546.7C675.8 542.2 679.8 541.1 681.7 540.0" fill="none" stroke="#000" stroke-width="1.4"/>
<path d="M615.8 608.3C620.5 605.2 634.2 598.6 643.8 590.0C653.4 581.4 667.8 564.5 673.3 556.7C678.8 548.9 676.1 545.5 676.7 543.3" fill="none" stroke="#000" stroke-width="1.4"/>

<g stroke="#000" stroke-width="1.1" stroke-linejoin="round" font-weight="bold" text-rendering="geometricPrecision">
<text y="99.8" font-size="32"><tspan x="37.6" textLength="35" lengthAdjust="spacingAndGlyphs">12</tspan> <tspan x="81" textLength="66.8" lengthAdjust="spacingAndGlyphs">N·m</tspan> <tspan x="157.7" textLength="53.5" lengthAdjust="spacingAndGlyphs">(1.2</tspan> <tspan x="221.6" textLength="98" lengthAdjust="spacingAndGlyphs">kgf·m,</tspan></text>
<text y="132.3" font-size="32"><tspan x="35.8" textLength="44" lengthAdjust="spacingAndGlyphs">8.7</tspan> <tspan x="89.8" textLength="83.5" lengthAdjust="spacingAndGlyphs">lbf·ft)</tspan></text>
<text x="498.8" y="113.9" font-size="34" textLength="23.5" lengthAdjust="spacingAndGlyphs">A</text>
<text x="694" y="216.9" font-size="33" textLength="22" lengthAdjust="spacingAndGlyphs">B</text>
</g>
<text x="35.8" y="835.4" font-size="25.5" textLength="133.5" lengthAdjust="spacingAndGlyphs" stroke="#000" stroke-width="0.4" text-rendering="geometricPrecision">G03650900</text>

</svg>
</body>
</html>
